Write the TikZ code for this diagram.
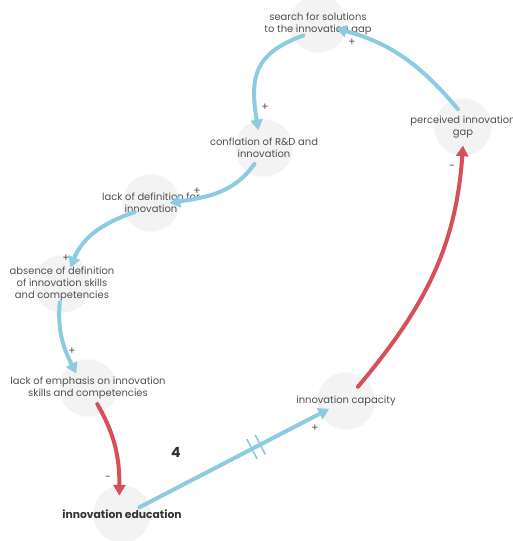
\documentclass[tikz,border=0pt]{standalone}
\usepackage{fontspec}
\setmainfont{Poppins}
\usetikzlibrary{arrows.meta,positioning,calc,backgrounds}

\definecolor{loopblue}{HTML}{8DCBE2}
\definecolor{loopred}{HTML}{D6505C}
\definecolor{halo}{HTML}{F3F3F3}
\definecolor{ink}{HTML}{505050}

\begin{document}
\begin{tikzpicture}[
      x=0.3mm, y=-0.3mm,
      font=\fontsize{8.5}{10}\selectfont,
      var/.style={circle, inner sep=0pt, minimum size=11mm},
      every label/.style={align=center, text=ink, inner sep=0pt},
      linkpos/.style={-{Triangle[length=3.2mm,width=3.6mm]}, line width=1.2mm,
                      draw=loopblue, line cap=round},
      linkneg/.style={linkpos, draw=loopred},
      sgn/.style={text=ink, font=\fontsize{9}{10}\selectfont, inner sep=0pt},
      delay/.style={inner sep=0pt, minimum width=1.6mm, minimum height=5.4mm},
      delaybar/.style={draw=loopblue, line width=0.5mm}]

    %% frame: reference is 512 x 541 px, one unit = one px, y running down
    \useasboundingbox (0,0) rectangle (512,541);

    %% ---- variables (circle = anchor ring, text sits at its centre) ----
    \node[var, label={center:search for solutions\\to the innovation gap}] (search) at (318,24) {};
    \node[var, label={center:perceived innovation\\gap}] (gap) at (463,127) {};
    \node[var, label={center:conflation of R\&D and\\innovation}] (conf) at (264,148) {};
    \node[var, label={center:lack of definition for\\innovation}] (lackdef) at (151,203) {};
    \node[var, label={center:absence of definition\\of innovation skills\\and competencies}] (absence) at (62,284) {};
    \node[var, label={center:lack of emphasis on innovation\\skills and competencies}] (emph) at (88,388) {};
    \node[var, label={[text=black!80, font=\fontsize{9.2}{11}\selectfont\bfseries]center:innovation education}] (educ) at (122,514) {};
    \node[var, label={center:innovation capacity}] (capac) at (346,401) {};
    \node[font=\fontsize{12}{14}\selectfont\bfseries, text=black!80] (loopno) at (176,452) {4};

    %% light halos behind every variable
    \begin{scope}[on background layer]
      \foreach \v in {search,gap,conf,lackdef,absence,emph,educ,capac}
        \fill[halo] (\v) circle (8.6mm);
    \end{scope}

    %% ---- links ----
    \draw[linkpos] (gap.106) to[out=130, in=-15] (search.-14);
    \draw[linkpos] (search.218) to[out=200, in=99, looseness=1.3] (conf.108);
    \draw[linkpos] (conf.239) to[out=235, in=9] (lackdef.0);
    \draw[linkpos] (lackdef.209) to[out=199, in=68] (absence.63);
    \draw[linkpos] (absence.263) to[out=265, in=117] (emph.129);
    \draw[linkneg] (emph.-60) to[out=-60, in=90] (educ.98);
    \draw[linkpos] (educ.21) -- node[pos=0.615, sloped, delay] (dl) {} (capac.205);
    \draw[linkneg] (capac.50) to[out=50, in=-94] (gap.-90);

    %% delay mark on the education -> capacity link
    \draw[delaybar] (dl.north west) -- (dl.south west)
                    (dl.north east) -- (dl.south east);

    %% ---- link polarities ----
    \node[sgn] at ([shift={(34,18)}]search) {+};
    \node[sgn] at ([shift={(1,-41)}]conf) {+};
    \node[sgn] at ([shift={(46,-12)}]lackdef) {+};
    \node[sgn] at ([shift={(4,-26)}]absence) {+};
    \node[sgn] at ([shift={(-16,-37)}]emph) {+};
    \node[sgn] at ([shift={(-14,-36)}]educ) {-};
    \node[sgn] at ([shift={(-31,27)}]capac) {+};
    \node[sgn] at ([shift={(-11,40)}]gap) {-};
  \end{tikzpicture}
\end{document}
